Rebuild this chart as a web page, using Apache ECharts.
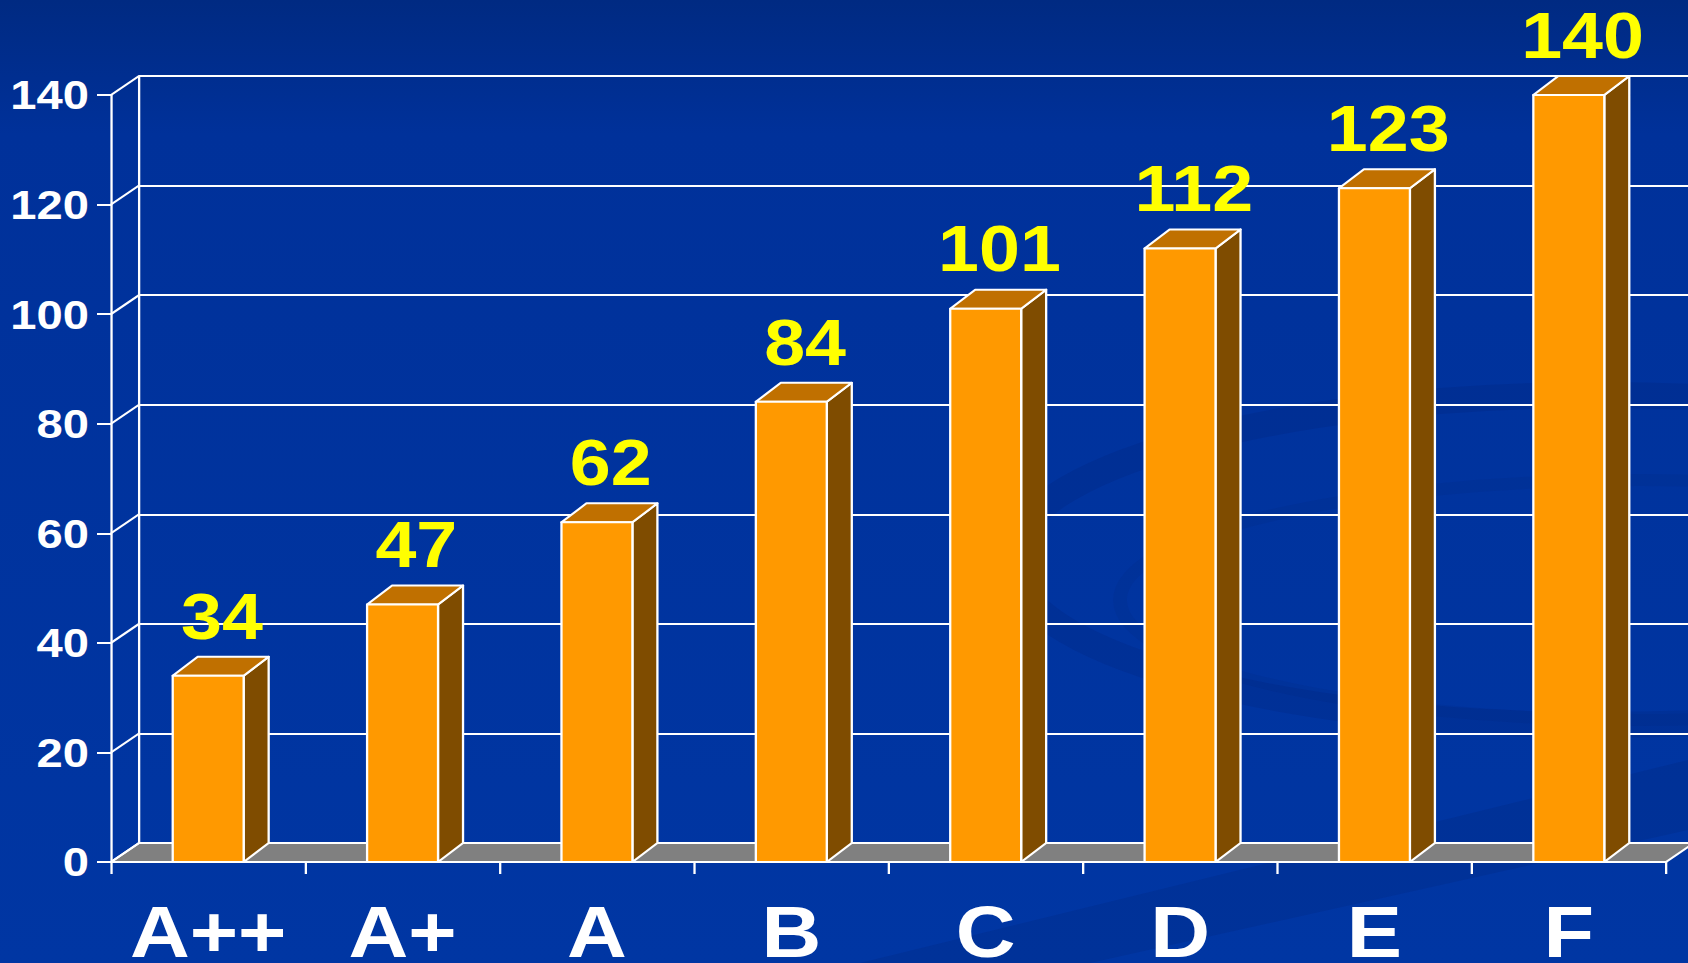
<!DOCTYPE html>
<html>
<head>
<meta charset="utf-8">
<script src="https://cdn.jsdelivr.net/npm/echarts@6/dist/echarts.min.js"></script>
<style>
  html, body { margin: 0; padding: 0; width: 1688px; height: 963px; overflow: hidden; background: #0034a0; }
  /* the slide is drawn narrower and stretched horizontally, like the widened original */
  #chart { width: 1468px; height: 963px; transform: scaleX(1.149864); transform-origin: 0 0; }
</style>
</head>
<body>
<div id="chart"></div>
<script>
// ---- data ----
const categories = ['A++', 'A+', 'A', 'B', 'C', 'D', 'E', 'F'];
const values = [34, 47, 62, 84, 101, 112, 123, 140];
const yTicks = [0, 20, 40, 60, 80, 100, 120, 140];

// ---- layout helpers ----
const SX = 1688 / 1468;            // horizontal stretch applied by CSS
const px = v => v / SX;            // screen-width pixels -> chart pixels
const FONT = '"Liberation Sans", Arial, Helvetica, sans-serif';

const WALL_DX = px(28), WALL_DY = -19;   // depth of the back wall / floor
const BAR_DX = px(25), BAR_DY = -19;     // depth of each column
const BAR_RATIO = 0.365;                 // column width / category width

const FRONT = '#ff9900', TOP = '#c07000', SIDE = '#7f4c00', FLOOR = '#808080';
const LINE = '#ffffff';

const chart = echarts.init(document.getElementById('chart'), null, { renderer: 'svg' });

const yMin = yTicks[0], yMax = yTicks[yTicks.length - 1], yStep = yTicks[1] - yTicks[0];

const option = {
  backgroundColor: new echarts.graphic.LinearGradient(0, 0, 0, 1, [
    { offset: 0, color: '#002a82' },
    { offset: 0.14, color: '#00319a' },
    { offset: 1, color: '#0036a3' }
  ]),
  animation: false,
  graphic: [
    // faint swirl of the slide background
    {
      type: 'ellipse', silent: true, z: -10,
      shape: { cx: px(1600), cy: 560, rx: px(590), ry: 165 },
      style: { fill: 'none', stroke: 'rgba(0,22,85,0.11)', lineWidth: 26 }
    },
    {
      type: 'ellipse', silent: true, z: -10,
      shape: { cx: px(1640), cy: 600, rx: px(520), ry: 120 },
      style: { fill: 'none', stroke: 'rgba(0,22,85,0.07)', lineWidth: 12 }
    },
    {
      type: 'polygon', silent: true, z: -10,
      shape: { points: [[px(860), 963], [px(1688), 760], [px(1688), 830], [px(1090), 963]] },
      style: { fill: 'rgba(0,22,85,0.12)' }
    }
  ],
  grid: [
    { left: px(111), top: 95, width: px(1555), height: 767, containLabel: false, outerBoundsMode: 'none' },
    { left: px(139), top: 76, width: px(1555), height: 767, containLabel: false, outerBoundsMode: 'none' }
  ],
  xAxis: [
    {
      type: 'category', gridIndex: 0, data: categories, boundaryGap: true,
      axisLine: { show: true, lineStyle: { color: LINE, width: 2 } },
      axisTick: { show: true, length: 12, alignWithLabel: false, lineStyle: { color: LINE, width: 2 } },
      axisLabel: {
        interval: 0, color: '#ffffff', fontFamily: FONT, fontWeight: 'bold', fontSize: 72,
        margin: 70, verticalAlign: 'middle'
      },
      splitLine: { show: false }
    },
    { type: 'category', gridIndex: 1, data: categories, show: false }
  ],
  yAxis: [
    {
      type: 'value', gridIndex: 0, min: yMin, max: yMax, interval: yStep,
      axisLine: { show: true, lineStyle: { color: LINE, width: 2 } },
      axisTick: { show: true, length: px(14), lineStyle: { color: LINE, width: 2 } },
      axisLabel: { color: '#ffffff', fontFamily: FONT, fontWeight: 'bold', fontSize: 41, margin: px(22) },
      splitLine: { show: false }
    },
    {
      // back wall with its gridlines
      type: 'value', gridIndex: 1, min: yMin, max: yMax, interval: yStep,
      axisLine: { show: true, lineStyle: { color: LINE, width: 2 } },
      axisTick: { show: false },
      axisLabel: { show: false },
      splitLine: { show: true, lineStyle: { color: LINE, width: 2 } }
    }
  ],
  series: [
    {
      // grey floor
      type: 'custom', name: 'floor', xAxisIndex: 0, yAxisIndex: 0, z: 1, silent: true,
      data: [[0, yMin]],
      renderItem(params, api) {
        const cs = params.coordSys;
        const y0 = api.coord([0, yMin])[1];
        const x0 = cs.x, x1 = cs.x + cs.width;
        return {
          type: 'polygon',
          shape: { points: [[x0, y0], [x0 + WALL_DX, y0 + WALL_DY], [x1 + WALL_DX, y0 + WALL_DY], [x1, y0]] },
          style: { fill: FLOOR, stroke: LINE, lineWidth: 2, lineJoin: 'round' }
        };
      }
    },
    {
      // side wall: ties each front tick to the back wall
      type: 'custom', name: 'wall', xAxisIndex: 0, yAxisIndex: 0, z: 1, silent: true,
      data: yTicks.map(v => [0, v]),
      renderItem(params, api) {
        const cs = params.coordSys;
        const y = api.coord([0, api.value(1)])[1];
        return {
          type: 'line',
          shape: { x1: cs.x, y1: y, x2: cs.x + WALL_DX, y2: y + WALL_DY },
          style: { stroke: LINE, lineWidth: 2 }
        };
      }
    },
    {
      // 3-D columns with their value labels
      type: 'custom', name: 'values', xAxisIndex: 0, yAxisIndex: 0, z: 3, silent: true,
      data: values.map((v, i) => [i, v]),
      renderItem(params, api) {
        const i = api.value(0), v = api.value(1);
        const top = api.coord([i, v]);
        const base = api.coord([i, yMin]);
        const w = api.size([1, 0])[0] * BAR_RATIO;
        const xl = top[0] - w / 2, xr = top[0] + w / 2;
        const yt = top[1], yb = base[1];
        const edge = { stroke: LINE, lineWidth: 2, lineJoin: 'round' };
        return {
          type: 'group',
          children: [
            {
              type: 'polygon',
              shape: { points: [[xr, yt], [xr + BAR_DX, yt + BAR_DY], [xr + BAR_DX, yb + BAR_DY], [xr, yb]] },
              style: Object.assign({ fill: SIDE }, edge)
            },
            {
              type: 'polygon',
              shape: { points: [[xl, yt], [xl + BAR_DX, yt + BAR_DY], [xr + BAR_DX, yt + BAR_DY], [xr, yt]] },
              style: Object.assign({ fill: TOP }, edge)
            },
            {
              type: 'rect',
              shape: { x: xl, y: yt, width: w, height: yb - yt },
              style: Object.assign({ fill: FRONT }, edge)
            },
            {
              type: 'text',
              x: top[0] + BAR_DX * 0.55,
              y: yt + BAR_DY - 40,
              style: {
                text: String(v), fill: '#ffff00', fontFamily: FONT, fontWeight: 'bold', fontSize: 64,
                align: 'center', verticalAlign: 'middle'
              }
            }
          ]
        };
      }
    }
  ]
};

chart.setOption(option);
</script>
</body>
</html>
